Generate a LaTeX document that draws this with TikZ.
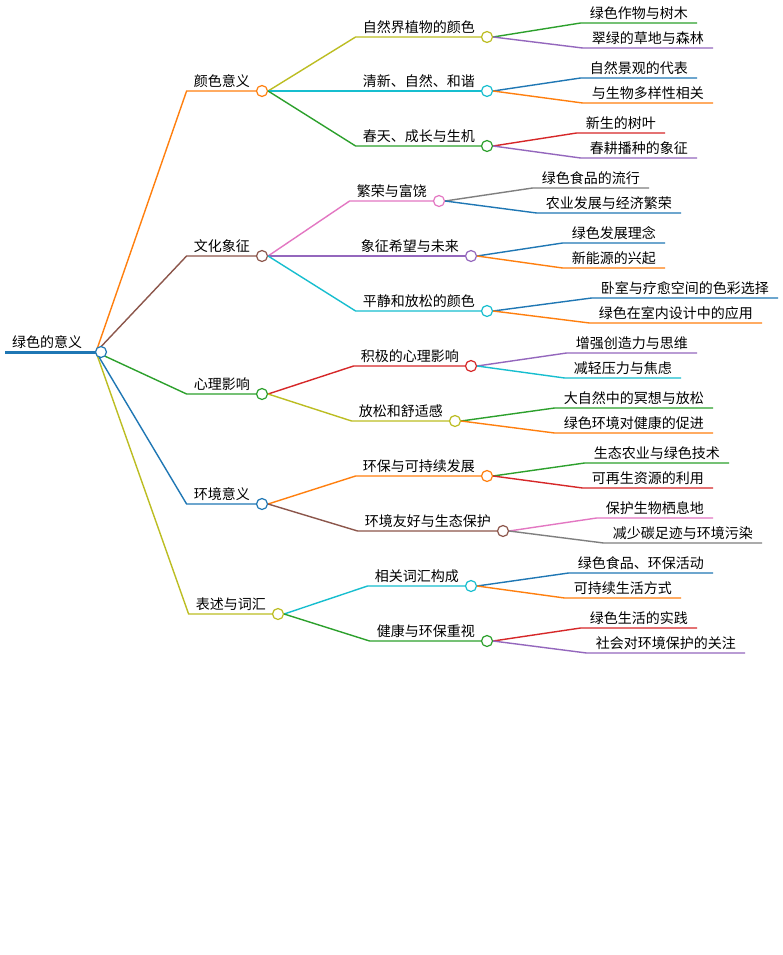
\documentclass[tikz,border=0pt]{standalone}
\usepackage{fontspec}
\setmainfont{Noto Sans CJK SC}
\usetikzlibrary{calc}
\definecolor{cOrange}{HTML}{FF7F0E}
\definecolor{cBrown}{HTML}{8C564B}
\definecolor{cGreen}{HTML}{2CA02C}
\definecolor{cBlue}{HTML}{1F77B4}
\definecolor{cOlive}{HTML}{BCBD22}
\definecolor{cCyan}{HTML}{17BECF}
\definecolor{cPink}{HTML}{E377C2}
\definecolor{cPurple}{HTML}{9467BD}
\definecolor{cRed}{HTML}{D62728}
\definecolor{cGray}{HTML}{7F7F7F}
\tikzset{
  lbl/.style={inner xsep=7pt, inner ysep=3pt, font=\fontsize{14}{16}\selectfont},
  leaflbl/.style={lbl, inner xsep=9pt},
  edge/.style={line width=1.4pt},
  dot/.style={circle, draw, fill=white, line width=1.2pt, minimum size=11pt, inner sep=0pt}
}
% branch: parent, name, circle x, y, colour, text
\newcommand{\branch}[6]{%
  \node[lbl, anchor=south east] (#2) at (#3-5,#4) {#6};
  \draw[edge, #5] (#1-c.east) .. controls ($(#1-c.east)!0.5!(#2.south west)$ |- #1-c.east)
     and ($(#1-c.east)!0.5!(#2.south west)$ |- #2.south west) .. (#2.south west) -- (#3,#4);
  \node[dot, draw=#5] (#2-c) at (#3,#4) {};
}
% leaf: parent, name, end x, y, colour, text
\newcommand{\leaf}[6]{%
  \node[leaflbl, anchor=south east] (#2) at (#3,#4) {#6};
  \draw[edge, #5] (#1-c.east) .. controls ($(#1-c.east)!0.5!(#2.south west)$ |- #1-c.east)
     and ($(#1-c.east)!0.5!(#2.south west)$ |- #2.south west) .. (#2.south west) -- (#2.south east);
}
\begin{document}
\begin{tikzpicture}[x=1pt,y=-1pt]
  \useasboundingbox[fill=white] (0,0) rectangle (783,955);
  % Root
  \node[lbl, anchor=south west] (root) at (5,352) {绿色的意义};
  \draw[line width=3pt, cBlue] (root.south west) -- (101,352);
  \coordinate (root-c) at (96,352);

  % Main branches
  \branch{root}{colour}{262}{91}{cOrange}{颜色意义}
  \branch{root}{culture}{262}{256}{cBrown}{文化象征}
  \branch{root}{mind}{262}{394}{cGreen}{心理影响}
  \branch{root}{env}{262}{504}{cBlue}{环境意义}
  \branch{root}{words}{278}{614}{cOlive}{表述与词汇}
  \node[dot, draw=cBlue] at (101,352) {};

  % Second level
  \branch{colour}{plant}{487}{37}{cOlive}{自然界植物的颜色}
  \branch{colour}{fresh}{487}{91}{cCyan}{清新、自然、和谐}
  \branch{colour}{spring}{487}{146}{cGreen}{春天、成长与生机}
  \branch{culture}{rich}{439}{201}{cPink}{繁荣与富饶}
  \branch{culture}{hope}{471}{256}{cPurple}{象征希望与未来}
  \branch{culture}{calm}{487}{311}{cCyan}{平静和放松的颜色}
  \branch{mind}{positive}{471}{366}{cRed}{积极的心理影响}
  \branch{mind}{relax}{455}{421}{cOlive}{放松和舒适感}
  \branch{env}{sustain}{487}{476}{cOrange}{环保与可持续发展}
  \branch{env}{eco}{503}{531}{cBrown}{环境友好与生态保护}
  \branch{words}{vocab}{471}{586}{cCyan}{相关词汇构成}
  \branch{words}{health}{487}{641}{cGreen}{健康与环保重视}

  % Leaves
  \leaf{plant}{crop}{697}{23}{cGreen}{绿色作物与树木}
  \leaf{plant}{grass}{713}{48}{cPurple}{翠绿的草地与森林}
  \leaf{fresh}{scene}{697}{78}{cBlue}{自然景观的代表}
  \leaf{fresh}{bio}{713}{103}{cOrange}{与生物多样性相关}
  \leaf{spring}{leafnew}{665}{133}{cRed}{新生的树叶}
  \leaf{spring}{sow}{697}{158}{cPurple}{春耕播种的象征}
  \leaf{rich}{food}{649}{188}{cGray}{绿色食品的流行}
  \leaf{rich}{farm}{681}{213}{cBlue}{农业发展与经济繁荣}
  \leaf{hope}{idea}{665}{243}{cBlue}{绿色发展理念}
  \leaf{hope}{energy}{665}{268}{cOrange}{新能源的兴起}
  \leaf{calm}{room}{778}{298}{cBlue}{卧室与疗愈空间的色彩选择}
  \leaf{calm}{interior}{762}{323}{cOrange}{绿色在室内设计中的应用}
  \leaf{positive}{create}{697}{353}{cPurple}{增强创造力与思维}
  \leaf{positive}{stress}{681}{378}{cCyan}{减轻压力与焦虑}
  \leaf{relax}{medit}{713}{408}{cGreen}{大自然中的冥想与放松}
  \leaf{relax}{wellbeing}{713}{433}{cOrange}{绿色环境对健康的促进}
  \leaf{sustain}{agri}{729}{463}{cGreen}{生态农业与绿色技术}
  \leaf{sustain}{renew}{713}{488}{cRed}{可再生资源的利用}
  \leaf{eco}{habitat}{713}{518}{cPink}{保护生物栖息地}
  \leaf{eco}{carbon}{762}{543}{cGray}{减少碳足迹与环境污染}
  \leaf{vocab}{act}{713}{573}{cBlue}{绿色食品、环保活动}
  \leaf{vocab}{life}{681}{598}{cOrange}{可持续生活方式}
  \leaf{health}{practice}{697}{628}{cRed}{绿色生活的实践}
  \leaf{health}{care}{745}{653}{cPurple}{社会对环境保护的关注}
\end{tikzpicture}
\end{document}
